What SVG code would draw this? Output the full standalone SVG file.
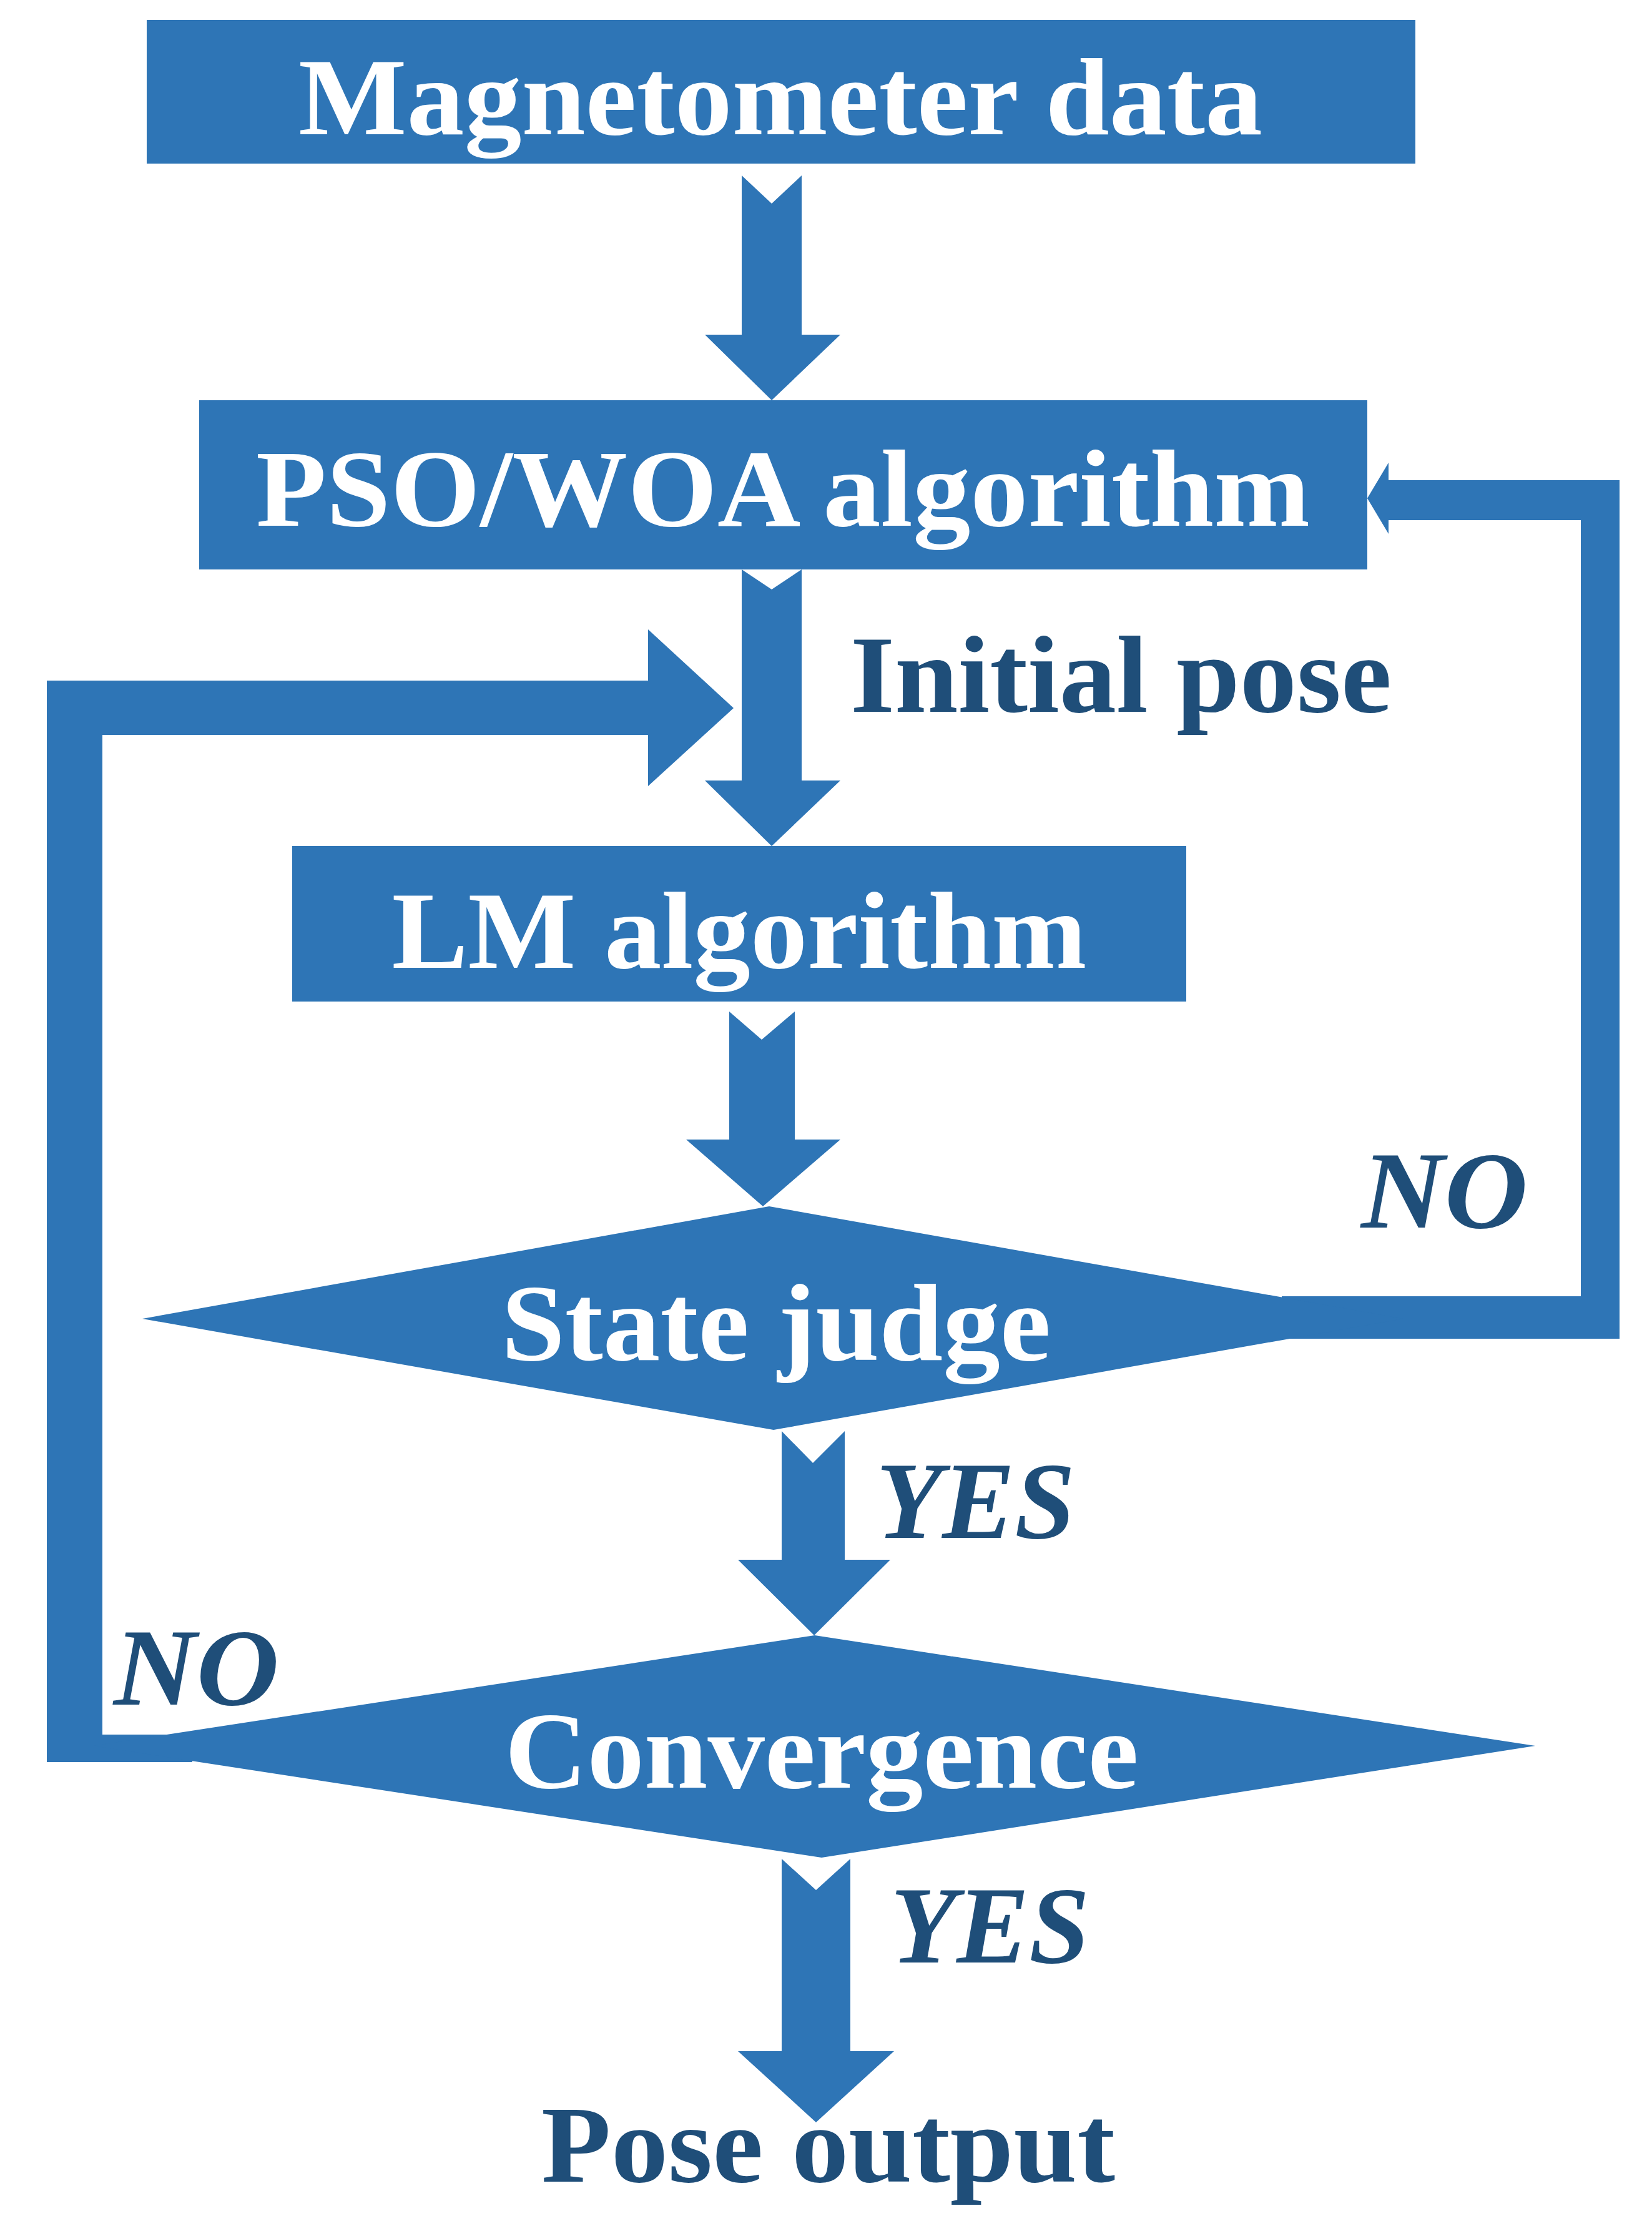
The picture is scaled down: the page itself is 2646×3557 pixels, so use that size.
<svg xmlns="http://www.w3.org/2000/svg" width="2646" height="3557" viewBox="0 0 2646 3557">
<style>
.s{fill:#2E75B6}
.w{fill:#fff;font-family:"Liberation Serif",serif;font-weight:bold;font-size:175px;text-anchor:middle}
.d{fill:#1F4E79;font-family:"Liberation Serif",serif;font-weight:bold;font-size:175px}
.i{font-style:italic}
</style>
<rect width="2646" height="3557" fill="#fff"/>
<g id="connectors">
<polygon class="s" points="1188,281 1236,326 1284,281 1284,536 1346,536 1236,641 1129,536 1188,536"/>
<polygon class="s" points="1188,912 1236,944 1284,912 1284,1250 1346,1250 1236,1355 1129,1250 1188,1250"/>
<polygon class="s" points="1168,1620 1220,1665 1273,1620 1273,1825 1346,1825 1222,1932 1099,1825 1168,1825"/>
<polygon class="s" points="1252,2292 1302,2343 1353,2292 1353,2498 1426,2498 1304,2619 1182,2498 1252,2498"/>
<polygon class="s" points="1252,2977 1307,3027 1362,2977 1362,3285 1432,3285 1307,3399 1182,3285 1252,3285"/>
<polygon class="s" points="2053,2076 2532,2076 2532,833 2224,833 2224,855 2190,798 2224,741 2224,769 2594,769 2594,2144 2053,2144"/>
<polygon class="s" points="308,2778 164,2778 164,1177 1038,1177 1038,1259 1175,1134 1038,1008 1038,1090 75,1090 75,2822 308,2822"/>
</g>
<g id="n1"><rect class="s" x="235" y="32" width="2032" height="230"/><text class="w" x="1250" y="215" textLength="1544" lengthAdjust="spacingAndGlyphs">Magnetometer data</text></g>
<g id="n2"><rect class="s" x="319" y="641" width="1871" height="271"/><text class="w" x="1254" y="842" textLength="1688" lengthAdjust="spacingAndGlyphs">PSO/WOA algorithm</text></g>
<g id="n3"><rect class="s" x="468" y="1355" width="1432" height="249"/><text class="w" x="1184" y="1550" textLength="1113" lengthAdjust="spacingAndGlyphs">LM algorithm</text></g>
<g id="n4"><polygon class="s" points="228,2112 1232,1932 2247,2112 1239,2290"/><text class="w" x="1243" y="2178" textLength="880" lengthAdjust="spacingAndGlyphs">State judge</text></g>
<g id="n5"><polygon class="s" points="150,2796 1305,2619 2459,2796 1316,2975"/><text class="w" x="1316" y="2863" textLength="1015" lengthAdjust="spacingAndGlyphs">Convergence</text></g>
<g id="labels">
<text class="d" x="1362" y="1140" textLength="867" lengthAdjust="spacingAndGlyphs">Initial pose</text>
<text class="d i" x="2180" y="1966" textLength="267" lengthAdjust="spacingAndGlyphs">NO</text>
<text class="d i" x="1403" y="2463" textLength="319" lengthAdjust="spacingAndGlyphs">YES</text>
<text class="d i" x="182" y="2730" textLength="265" lengthAdjust="spacingAndGlyphs">NO</text>
<text class="d i" x="1426" y="3143" textLength="319" lengthAdjust="spacingAndGlyphs">YES</text>
<text class="d" x="867" y="3494" textLength="919" lengthAdjust="spacingAndGlyphs">Pose output</text>
</g>
</svg>
